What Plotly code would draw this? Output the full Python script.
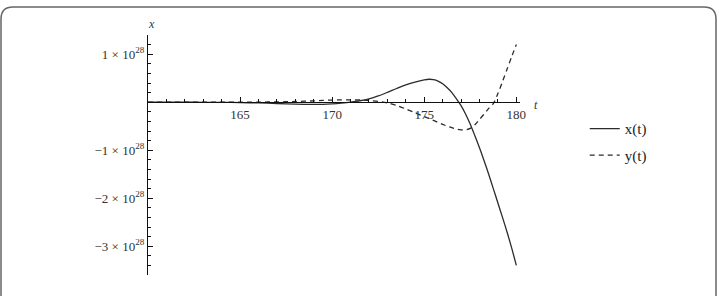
import plotly.graph_objects as go

# ---- data (values in units of 1e28) ----
SCALE = 1e28
t_vals = [160, 161, 162, 163, 164, 165, 166, 167, 168, 169, 169.5, 170, 170.5, 171, 171.5,
          172, 172.5, 173, 173.5, 174, 174.5, 175, 175.25, 175.5, 175.75, 176, 176.25, 176.5, 176.75,
          177, 177.25, 177.5, 177.75, 178, 178.25, 178.5, 178.75, 179, 179.25, 179.5, 179.75, 180]
x_vals = [0, 0, 0, -0.002, -0.004, -0.008, -0.015, -0.027, -0.04, -0.047, -0.045, -0.035, -0.02, 0.0, 0.03,
          0.07, 0.13, 0.205, 0.285, 0.36, 0.42, 0.465, 0.478, 0.47, 0.44, 0.385, 0.30, 0.20, 0.07,
          -0.07, -0.25, -0.46, -0.70, -0.95, -1.22, -1.50, -1.80, -2.10, -2.40, -2.71, -3.04, -3.40]
y_vals = [0, 0, 0, 0, 0, 0, 0.002, 0.006, 0.015, 0.028, 0.037, 0.045, 0.05, 0.05, 0.047,
          0.035, 0.015, -0.015, -0.07, -0.14, -0.22, -0.30, -0.34, -0.38, -0.42, -0.46, -0.50, -0.53, -0.56,
          -0.575, -0.575, -0.545, -0.47, -0.36, -0.25, -0.13, -0.03, 0.18, 0.43, 0.69, 0.95, 1.20]
series_names = ["x(t)", "y(t)"]
x_tick_vals = [165, 170, 175, 180]
y_tick_vals = [-3, -2, -1, 1]
y_tick_text = ["\u22123 \u00d7 10<sup>28</sup>", "\u22122 \u00d7 10<sup>28</sup>",
               "\u22121 \u00d7 10<sup>28</sup>", "1 \u00d7 10<sup>28</sup>"]

W, H = 719, 296
ML, MR, MT, MB = 148, 199, 35, 21
X_RANGE = [160, 180.2]
Y_RANGE = [-3.6, 1.4]

LINE_COLOR = "#2b2b2b"
SERIF = "Liberation Serif"

fig = go.Figure()
fig.add_trace(go.Scatter(x=t_vals, y=[v * SCALE for v in x_vals], mode="lines",
                         name=series_names[0], legendgroup="a",
                         line=dict(color=LINE_COLOR, width=1.3, shape="spline", smoothing=0.8)))
fig.add_trace(go.Scatter(x=t_vals, y=[v * SCALE for v in y_vals], mode="lines",
                         name=series_names[1], legendgroup="b",
                         line=dict(color=LINE_COLOR, width=1.3, shape="spline", smoothing=0.8, dash="5px,4px")))

x_axis_pos = (0 - Y_RANGE[0]) / (Y_RANGE[1] - Y_RANGE[0])

fig.update_layout(
    width=W, height=H,
    margin=dict(l=ML, r=MR, t=MT, b=MB, pad=0),
    plot_bgcolor="white", paper_bgcolor="white",
    showlegend=True,
    legend=dict(x=1.174, y=0.678, xanchor="left", yanchor="top", bgcolor="rgba(0,0,0,0)",
                font=dict(family=SERIF, size=15, color="#222"),
                itemwidth=30, tracegroupgap=4),
    xaxis=dict(range=X_RANGE, anchor="free", position=x_axis_pos, side="bottom",
               showgrid=False, zeroline=False, showline=True, linecolor="#111", linewidth=1.3,
               ticks="inside", ticklen=5, tickwidth=1, tickcolor="#111",
               tickvals=x_tick_vals, ticktext=[str(v) for v in x_tick_vals],
               tickfont=dict(family=SERIF, size=13, color="#333"),
               minor=dict(dtick=1, tick0=160, ticks="inside", ticklen=3, tickcolor="#111", tickwidth=1)),
    yaxis=dict(range=[Y_RANGE[0] * SCALE, Y_RANGE[1] * SCALE], showgrid=False, zeroline=False,
               showline=True, linecolor="#111", linewidth=1.3,
               ticks="inside", ticklen=5, tickwidth=1, tickcolor="#111",
               tickvals=[v * SCALE for v in y_tick_vals], ticktext=y_tick_text,
               tickfont=dict(family=SERIF, size=13, color="#333"),
               minor=dict(dtick=0.2 * SCALE, tick0=0, ticks="inside", ticklen=3, tickcolor="#111", tickwidth=1)),
)

# axis labels
fig.add_annotation(text="<i>x</i>", xref="paper", yref="paper", x=0, xshift=-2, y=1.0, yshift=20,
                   showarrow=False, font=dict(family=SERIF, size=12, color="#333"))
fig.add_annotation(text="<i>t</i>", xref="paper", yref="paper", x=1.0, xshift=20, y=x_axis_pos, yshift=6,
                   showarrow=False, font=dict(family=SERIF, size=12, color="#333"))

# rounded frame
pw = W - ML - MR
ph = H - MT - MB
def px(x):
    return (x - ML) / pw
def py(y):
    return (H - MB - y) / ph
r = 12
x0, x1, y0, y1 = 1, 716, 7, 320
path = (f"M {px(x0)},{py(y1)} L {px(x0)},{py(y0 + r)} Q {px(x0)},{py(y0)} {px(x0 + r)},{py(y0)} "
        f"L {px(x1 - r)},{py(y0)} Q {px(x1)},{py(y0)} {px(x1)},{py(y0 + r)} L {px(x1)},{py(y1)}")
fig.add_shape(type="path", path=path, xref="paper", yref="paper",
              line=dict(color="#666", width=1.5), layer="below")

fig.write_html("out.html")
